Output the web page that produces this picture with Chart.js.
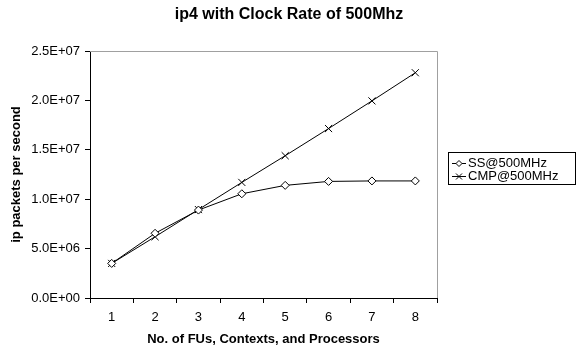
<!DOCTYPE html>
<html>
<head>
<meta charset="utf-8">
<script src="https://cdn.jsdelivr.net/npm/chart.js@4.4.0/dist/chart.umd.min.js"></script>
<style>
  body { margin: 0; background: #fff; }
  canvas { display: block; }
</style>
</head>
<body>
<canvas id="ipChart" width="578" height="352"></canvas>
<script>
const categories = ['1', '2', '3', '4', '5', '6', '7', '8'];
const ssValues = [3.5e6, 6.55e6, 8.9e6, 10.55e6, 11.4e6, 11.8e6, 11.85e6, 11.85e6];
const cmpValues = [3.5e6, 6.2e6, 8.95e6, 11.7e6, 14.4e6, 17.15e6, 19.95e6, 22.8e6];
const seriesNames = ['SS@500MHz', 'CMP@500MHz'];
const chartTitle = 'ip4 with Clock Rate of 500Mhz';

const FONT = 'Arial, "Liberation Sans", sans-serif';

// excel-ish number format: 2.5E+07
function sci(v) {
    const parts = Number(v).toExponential(1).split('e');
    let exp = parseInt(parts[1], 10);
    const sign = exp < 0 ? '-' : '+';
    exp = Math.abs(exp);
    return parts[0] + 'E' + sign + (exp < 10 ? '0' + exp : exp);
}

const frame = {
    id: 'frame',
    afterDraw(chart) {
        const c = chart.ctx;
        const a = chart.chartArea;
        c.save();
        // grey plot border (top + right)
        c.strokeStyle = '#a0a0a0';
        c.lineWidth = 1;
        c.beginPath();
        c.moveTo(a.left, a.top + 0.5);
        c.lineTo(a.right + 0.5, a.top + 0.5);
        c.lineTo(a.right + 0.5, a.bottom);
        c.stroke();

        // title, centred on the whole canvas like excel does
        c.fillStyle = '#000';
        c.font = 'bold 16px ' + FONT;
        c.textAlign = 'center';
        c.textBaseline = 'middle';
        c.fillText(chartTitle, chart.width / 2, 15);

        // legend
        const lx = 448.5, ly = 152.5, lw = 127, lh = 32;
        c.strokeStyle = '#000';
        c.strokeRect(lx, ly, lw, lh);
        c.font = '13px ' + FONT;
        c.textAlign = 'left';
        const rows = [ly + 10, ly + 23];
        chart.data.datasets.forEach((ds, i) => {
            const y = Math.round(rows[i]) + 0.5;
            c.beginPath();
            c.moveTo(452, y);
            c.lineTo(466, y);
            c.stroke();
            const mx = 459;
            c.beginPath();
            if (i === 0) {
                c.moveTo(mx, y - 3); c.lineTo(mx + 3, y); c.lineTo(mx, y + 3); c.lineTo(mx - 3, y); c.closePath();
                c.fillStyle = '#fff';
                c.fill();
                c.stroke();
            } else {
                c.moveTo(mx - 3, y - 3); c.lineTo(mx + 3, y + 3);
                c.moveTo(mx + 3, y - 3); c.lineTo(mx - 3, y + 3);
                c.stroke();
            }
            c.fillStyle = '#000';
            c.fillText(ds.label, 468, y);
        });
        c.restore();
    }
};

new Chart(document.getElementById('ipChart'), {
    type: 'line',
    data: {
        labels: categories,
        datasets: [
            {
                label: seriesNames[0],
                data: ssValues,
                borderColor: '#000',
                borderWidth: 1,
                pointStyle: 'rectRot',
                pointRadius: 4,
                pointBorderWidth: 1,
                pointBackgroundColor: '#fff',
                pointBorderColor: '#000',
                tension: 0
            },
            {
                label: seriesNames[1],
                data: cmpValues,
                borderColor: '#000',
                borderWidth: 1,
                pointStyle: 'crossRot',
                pointRadius: 5,
                pointBorderWidth: 1,
                pointBorderColor: '#000',
                tension: 0
            }
        ]
    },
    options: {
        responsive: false,
        animation: false,
        layout: { padding: { top: 51, right: 141, left: 0, bottom: 0 } },
        plugins: {
            legend: { display: false },
            title: { display: false },
            tooltip: { enabled: false }
        },
        scales: {
            x: {
                offset: true,
                grid: { offset: true, drawOnChartArea: false, tickLength: 5, color: '#000' },
                border: { color: '#000' },
                ticks: { color: '#000', font: { family: FONT, size: 13 }, padding: 7, maxRotation: 0 },
                title: {
                    display: true,
                    text: 'No. of FUs, Contexts, and Processors',
                    color: '#000',
                    font: { family: FONT, size: 13, weight: 'bold' },
                    padding: { top: 0, bottom: 5 }
                },
                afterFit(scale) { scale.height = 54; }
            },
            y: {
                min: 0,
                max: 2.5e7,
                grid: { drawOnChartArea: false, tickLength: 5, color: '#000' },
                border: { color: '#000' },
                ticks: {
                    stepSize: 5e6,
                    color: '#000',
                    font: { family: FONT, size: 13 },
                    padding: 5,
                    callback: (v) => sci(v)
                },
                title: {
                    display: true,
                    text: 'ip packets per second',
                    color: '#000',
                    font: { family: FONT, size: 13, weight: 'bold' },
                    padding: { top: 9, bottom: 0 }
                },
                afterFit(scale) { scale.width = 90; }
            }
        }
    },
    plugins: [frame]
});
</script>
</body>
</html>
